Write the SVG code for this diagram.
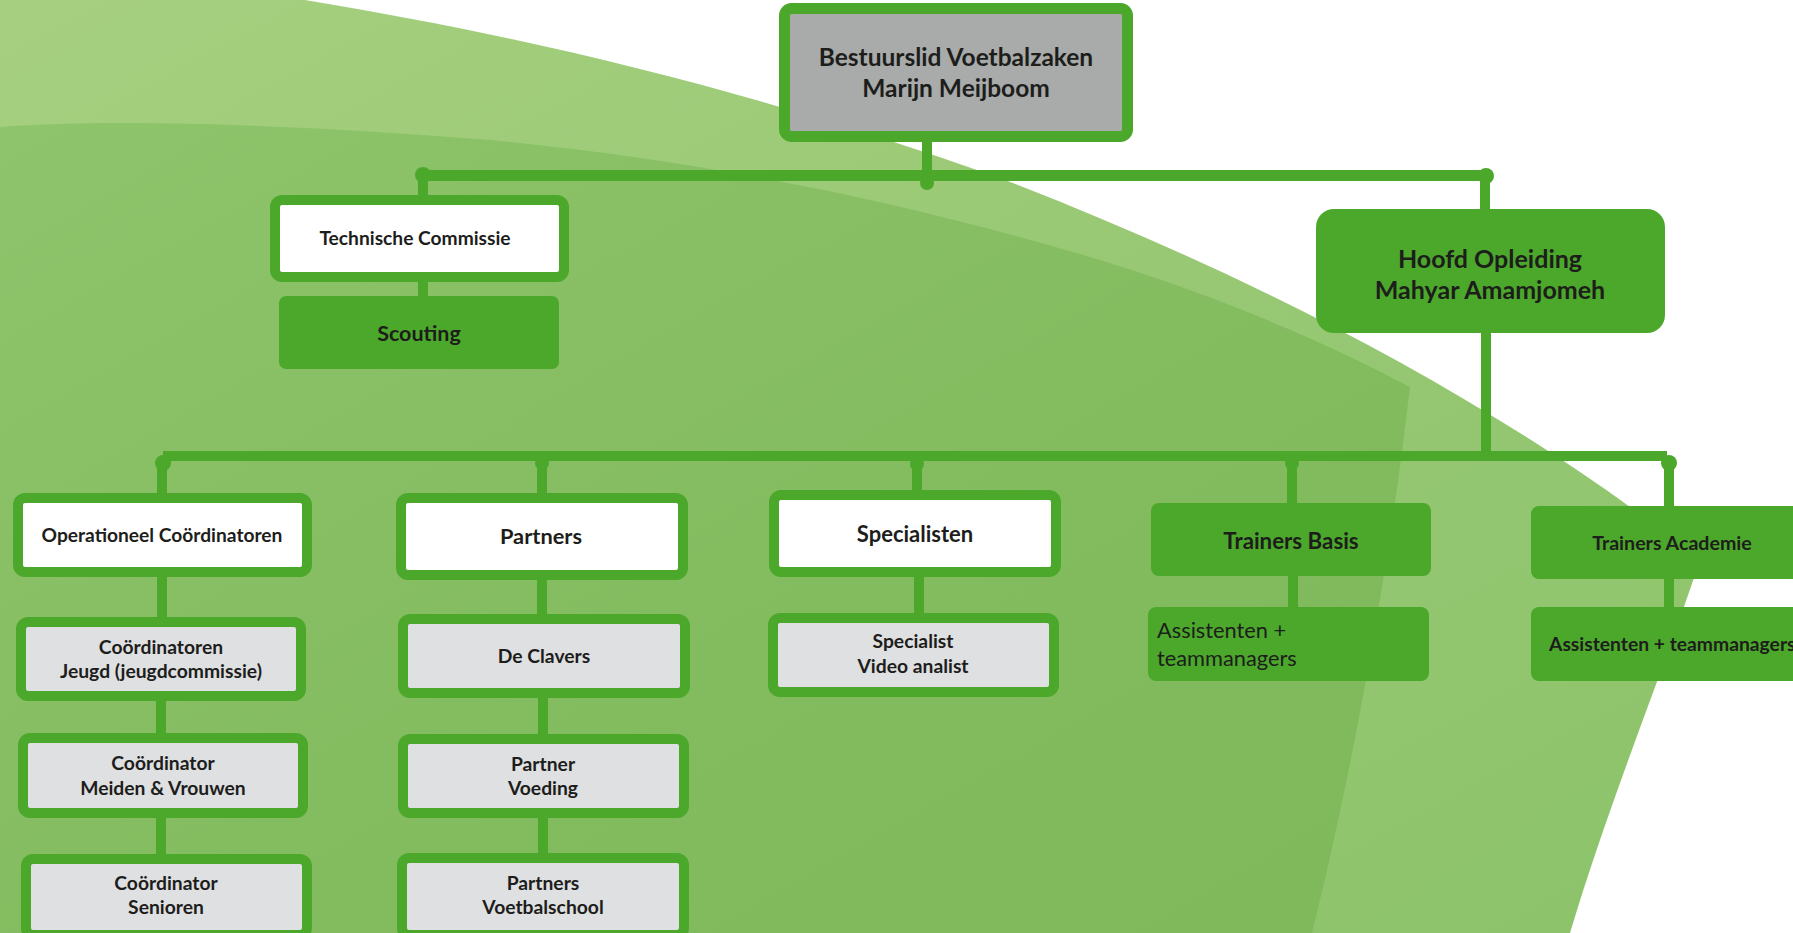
<svg xmlns="http://www.w3.org/2000/svg" width="1793" height="933" viewBox="0 0 1793 933">
<defs>
<linearGradient id="gOuter" x1="0" y1="0" x2="1" y2="1">
<stop offset="0" stop-color="#a6d07f"/>
<stop offset="0.5" stop-color="#98c874"/>
<stop offset="1" stop-color="#8cc36a"/>
</linearGradient>
<linearGradient id="gInner" x1="0" y1="0" x2="1" y2="1">
<stop offset="0" stop-color="#8ec46b"/>
<stop offset="0.6" stop-color="#83bb5f"/>
<stop offset="1" stop-color="#7fb95b"/>
</linearGradient>
<style>
.t{font-family:Lato,"Liberation Sans",sans-serif;fill:#1d1d1b;text-anchor:middle;font-weight:700}
.s{font-size:19.3px}
.r{font-weight:400;text-anchor:start}
.bw{fill:#ffffff;stroke:#4ba82b;stroke-width:10}
.bg{fill:#dfe0e2;stroke:#4ba82b;stroke-width:10}
.bt{fill:#a8aba9;stroke:#4ba82b;stroke-width:11}
.bf{fill:#4ba82b}
.c line{stroke:#4ba82b;stroke-width:10}
.c circle{fill:#4ba82b}
</style>
</defs>
<rect width="1793" height="933" fill="#ffffff"/>
<g id="background">
<path d="M0,0 L305,0 C560,42 780,100 1000,178 C1240,270 1500,400 1700,560 C1660,680 1610,800 1570,933 L0,933 Z" fill="url(#gOuter)"/>
<path d="M0,127 C120,118 300,125 491,140 C700,160 900,200 1100,260 C1230,300 1330,345 1410,387 C1390,560 1355,760 1312,933 L0,933 Z" fill="url(#gInner)"/>
</g>
<g id="connectors" class="c">
<line x1="927" y1="142" x2="927" y2="183"/>
<circle cx="927" cy="183" r="7"/>
<line x1="423" y1="175.5" x2="1486" y2="175.5" style="stroke-width:11"/>
<circle cx="423" cy="175" r="8"/>
<line x1="423" y1="175" x2="423" y2="196"/>
<circle cx="1486" cy="176" r="8"/>
<line x1="1485" y1="176" x2="1485" y2="210"/>
<line x1="423" y1="281" x2="423" y2="297"/>
<line x1="1486" y1="333" x2="1486" y2="461"/>
<line x1="163" y1="456" x2="1667" y2="456"/>
<circle cx="163" cy="463" r="8"/>
<circle cx="542" cy="463" r="7"/>
<circle cx="917" cy="464" r="7"/>
<circle cx="1292" cy="463" r="7"/>
<circle cx="1669" cy="463" r="8"/>
<line x1="162" y1="463" x2="162" y2="494"/>
<line x1="542" y1="463" x2="542" y2="494"/>
<line x1="917" y1="463" x2="917" y2="491"/>
<line x1="1292" y1="463" x2="1292" y2="504"/>
<line x1="1669" y1="463" x2="1669" y2="507"/>
<line x1="162" y1="576" x2="162" y2="618"/>
<line x1="161" y1="700" x2="161" y2="734"/>
<line x1="161" y1="817" x2="161" y2="855"/>
<line x1="542" y1="579" x2="542" y2="615"/>
<line x1="543" y1="697" x2="543" y2="735"/>
<line x1="543" y1="817" x2="543" y2="854"/>
<line x1="919" y1="576" x2="919" y2="614"/>
<line x1="1293" y1="575" x2="1293" y2="608"/>
<line x1="1669" y1="578" x2="1669" y2="608"/>
</g>
<g id="n-bestuurslid">
<rect class="bt" x="784.5" y="8.5" width="343" height="128" rx="7"/>
<text class="t" x="956" y="66" font-size="24.5">Bestuurslid Voetbalzaken</text>
<text class="t" x="956" y="97" font-size="24.5">Marijn Meijboom</text>
</g>
<g id="n-technische-commissie">
<rect class="bw" x="275" y="200" width="289" height="77" rx="7"/>
<text class="t" x="415" y="245" font-size="19.2">Technische Commissie</text>
</g>
<g id="n-scouting">
<rect class="bf" x="279" y="296" width="280" height="73" rx="7"/>
<text class="t" x="419" y="341" font-size="21.5">Scouting</text>
</g>
<g id="n-hoofd-opleiding">
<rect class="bf" x="1316" y="209" width="349" height="124" rx="18"/>
<text class="t" x="1490" y="268" font-size="25">Hoofd Opleiding</text>
<text class="t" x="1490" y="299" font-size="25">Mahyar Amamjomeh</text>
</g>
<g id="n-operationeel">
<rect class="bw" x="18" y="498" width="289" height="74" rx="7"/>
<text class="t" x="162" y="542" font-size="19.2">Operationeel Coördinatoren</text>
</g>
<g id="n-partners">
<rect class="bw" x="401" y="498" width="282" height="77" rx="7"/>
<text class="t" x="541" y="544" font-size="21.8">Partners</text>
</g>
<g id="n-specialisten">
<rect class="bw" x="774" y="495" width="282" height="77" rx="7"/>
<text class="t" x="915" y="542" font-size="22">Specialisten</text>
</g>
<g id="n-trainers-basis">
<rect class="bf" x="1151" y="503" width="280" height="73" rx="8"/>
<text class="t" x="1291" y="549" font-size="22.3">Trainers Basis</text>
</g>
<g id="n-trainers-academie">
<rect class="bf" x="1531" y="506" width="290" height="73" rx="8"/>
<text class="t" x="1672" y="550" font-size="19.6">Trainers Academie</text>
</g>
<g id="n-coordinatoren-jeugd">
<rect class="bg" x="21" y="622" width="280" height="74" rx="7"/>
<text class="t s" x="161" y="654">Coördinatoren</text>
<text class="t s" x="161" y="678">Jeugd (jeugdcommissie)</text>
</g>
<g id="n-coordinator-meiden">
<rect class="bg" x="23" y="738" width="280" height="75" rx="7"/>
<text class="t s" x="163" y="770">Coördinator</text>
<text class="t s" x="163" y="795">Meiden &amp; Vrouwen</text>
</g>
<g id="n-coordinator-senioren">
<rect class="bg" x="26" y="859" width="281" height="76" rx="7"/>
<text class="t s" x="166" y="890">Coördinator</text>
<text class="t s" x="166" y="914">Senioren</text>
</g>
<g id="n-de-clavers">
<rect class="bg" x="403" y="619" width="282" height="74" rx="7"/>
<text class="t s" x="544" y="663">De Clavers</text>
</g>
<g id="n-partner-voeding">
<rect class="bg" x="403" y="739" width="281" height="74" rx="7"/>
<text class="t s" x="543" y="771">Partner</text>
<text class="t s" x="543" y="795">Voeding</text>
</g>
<g id="n-partners-voetbalschool">
<rect class="bg" x="402" y="858" width="282" height="77" rx="7"/>
<text class="t s" x="543" y="890">Partners</text>
<text class="t s" x="543" y="914">Voetbalschool</text>
</g>
<g id="n-specialist-video">
<rect class="bg" x="773" y="618" width="281" height="74" rx="7"/>
<text class="t s" x="913" y="648">Specialist</text>
<text class="t s" x="913" y="673">Video analist</text>
</g>
<g id="n-assistenten-basis">
<rect class="bf" x="1148" y="607" width="281" height="74" rx="8"/>
<text class="t r" x="1157" y="638" font-size="21.8">Assistenten +</text>
<text class="t r" x="1157" y="666" font-size="21.8">teammanagers</text>
</g>
<g id="n-assistenten-academie">
<rect class="bf" x="1531" y="607" width="290" height="74" rx="8"/>
<text class="t s" x="1549" y="651" style="text-anchor:start">Assistenten + teammanagers</text>
</g>
</svg>
